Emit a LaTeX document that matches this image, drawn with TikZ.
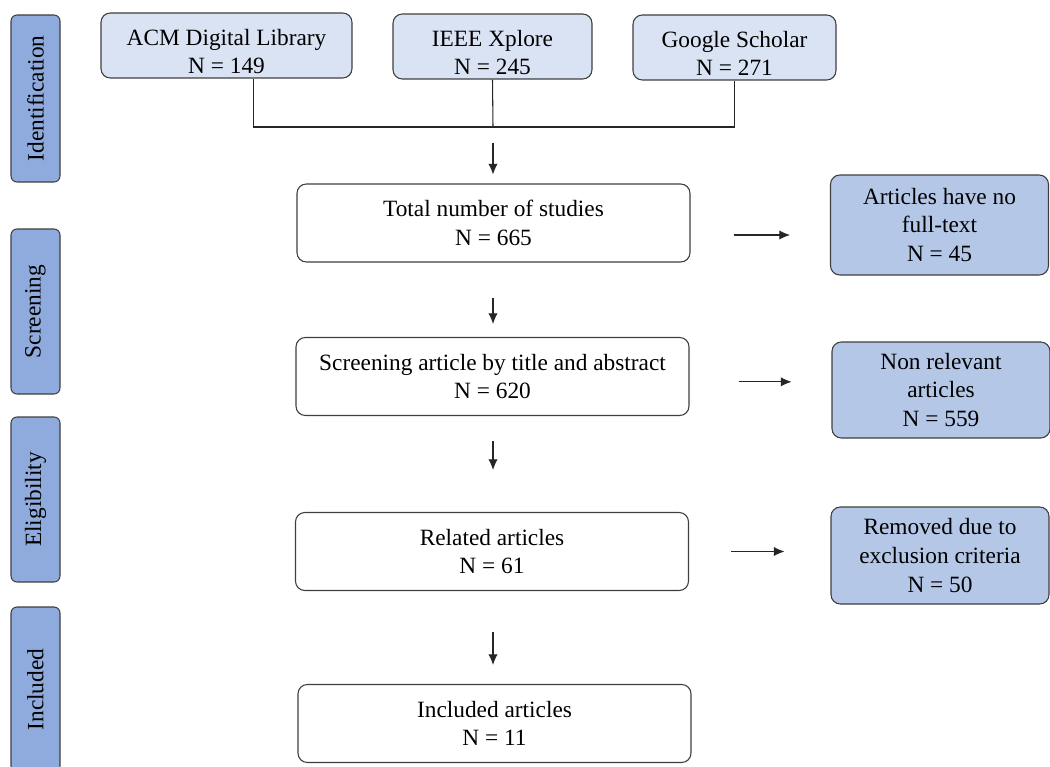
\documentclass[tikz,border=0pt]{standalone}
\usepackage{fontspec}
\setmainfont{Liberation Serif}
\usetikzlibrary{arrows.meta}
\definecolor{dbblue}{HTML}{DAE3F3}
\definecolor{exblue}{HTML}{B4C7E7}
\definecolor{phblue}{HTML}{8FAADC}
\definecolor{edge}{HTML}{3F3F3F}
\tikzset{
  phase/.style={draw=edge, line width=0.8pt, fill=phblue, rounded corners=4.5pt, rotate=90,
    minimum width=123.75pt, minimum height=36.75pt, inner sep=0pt},
  source/.style={draw=edge, line width=0.8pt, fill=dbblue, rounded corners=7pt,
    minimum height=48.75pt, align=center, inner sep=0pt},
  stage/.style={draw=edge, line width=0.8pt, fill=white, rounded corners=7pt,
    minimum width=294.75pt, minimum height=58.5pt, align=center, inner sep=0pt},
  dropped/.style={draw=edge, line width=0.8pt, fill=exblue, rounded corners=7pt,
    minimum width=163.5pt, minimum height=72.75pt, align=center, inner sep=0pt},
  link/.style={draw=black!85, line width=0.8pt},
  arr/.style={link, -{Latex[length=8pt,width=7pt]}},
}
\newcommand{\lowtext}{\rule{0pt}{21pt}}
\begin{document}
\begin{tikzpicture}[x=0.75pt, y=-0.75pt, font=\fontsize{17.5}{21.5}\selectfont]
\useasboundingbox (0,0) rectangle (1050,767);
% phases
\node[phase, minimum width=125.25pt] (ident) at (35.5,98.5) {Identification};
\node[phase] (screenph) at (35.5,311.5) {Screening};
\node[phase] (eligph) at (35.5,499.5) {Eligibility};
\node[phase] (inclph) at (35.5,689.5) {Included};
% sources
\node[source, minimum width=188.25pt] (acm) at (226.5,45.5) {\lowtext ACM Digital Library\\N = 149};
\node[source, minimum width=149.25pt] (ieee) at (492.5,46.5) {\lowtext IEEE Xplore\\N = 245};
\node[source, minimum width=152.25pt] (gs) at (734.5,47.5) {\lowtext Google Scholar\\N = 271};
\coordinate (merge) at (493,127);
\draw[link] ([xshift=20pt]acm.south) |- (merge) -| (gs.south);
\draw[link] (ieee.south) -- (merge);
% main flow
\node[stage] (total) at (493.5,223) {Total number of studies\\N = 665};
\node[stage] (screen) at (492.5,376.5) {Screening article by title and abstract\\N = 620};
\node[stage] (related) at (492,551.5) {Related articles\\N = 61};
\node[stage] (included) at (494.5,723.5) {Included articles\\N = 11};
\draw[arr, shorten <=12pt, shorten >=6.75pt] (merge) -- (merge |- total.north);
\draw[arr, shorten <=26.25pt, shorten >=9.75pt] (merge |- total.south) -- (merge |- screen.north);
\draw[arr, shorten <=18.75pt, shorten >=31.5pt] (merge |- screen.south) -- (merge |- related.north);
\draw[arr, shorten <=30.75pt, shorten >=14.25pt] (merge |- related.south) -- (merge |- included.north);
% excluded
\node[dropped, minimum height=75pt] (nofull) at (939.5,225) {Articles have no\\full-text\\N = 45};
\node[dropped, minimum height=72pt] (nonrel) at (941,390) {Non relevant\\articles\\N = 559};
\node[dropped] (removed) at (940,555.5) {Removed due to\\exclusion criteria\\N = 50};
\draw[arr, shorten <=32.25pt, shorten >=30pt] ([yshift=-9pt]total.east) -- ([yshift=-9pt]total.east -| nofull.west);
\draw[arr, shorten <=36.75pt, shorten >=30pt] ([yshift=-4pt]screen.east) -- ([yshift=-4pt]screen.east -| nonrel.west);
\draw[arr, shorten <=31.5pt, shorten >=34.5pt] (related.east) -- (related.east -| removed.west);
\end{tikzpicture}
\end{document}
